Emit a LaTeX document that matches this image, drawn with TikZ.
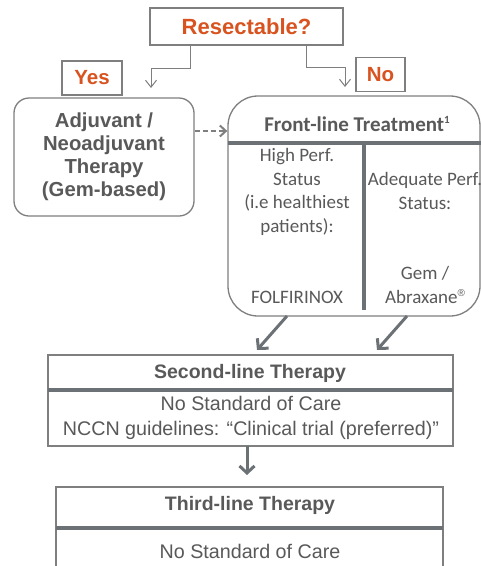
\documentclass[tikz,border=0pt]{standalone}
\usepackage{fontspec}
\setmainfont{Liberation Sans}
\newfontfamily\calfont{Carlito}
\newfontfamily\regfont{Liberation Sans}
\usetikzlibrary{arrows.meta}
\definecolor{txt}{HTML}{595959}
\definecolor{brd}{HTML}{7F7F7F}
\definecolor{divc}{HTML}{6B7175}
\definecolor{org}{HTML}{D8531F}
\begin{document}
\begin{tikzpicture}[x=1pt,y=-1pt,
  plainbox/.style={draw=brd, line width=1.3pt, fill=white, inner sep=0pt},
  orglbl/.style={font=\fontsize{20.5}{23}\selectfont\bfseries, text=org},
  boldtxt/.style={font=\fontsize{19.5}{23}\selectfont\bfseries, text=txt, align=center},
  bodytxt/.style={font=\fontsize{19.7}{25}\selectfont, text=txt, align=center},
  caltitle/.style={font=\calfont\fontsize{21}{23}\selectfont\bfseries, text=txt},
  caltxt/.style={font=\calfont\fontsize{19}{23.7}\selectfont, text=txt, align=center},
  divline/.style={draw=divc, line width=4pt},
  thinarrow/.style={draw=brd, line width=1pt, -{Straight Barb[length=7pt,width=11pt]}},
  dasharrow/.style={draw=brd, line width=2pt, dash pattern=on 5pt off 3pt, -{Straight Barb[length=6pt,width=11pt]}},
  bigarrow/.style={draw=divc, line width=3pt, -{Straight Barb[length=7pt,width=15pt]}}
]
\useasboundingbox (0,0) rectangle (481,566);

% top question
\node[plainbox, minimum width=193, minimum height=37, orglbl, font=\fontsize{22}{24}\selectfont\bfseries] (res) at (246.5,26.5) {Resectable?};
\node[plainbox, minimum width=60, minimum height=34, orglbl] (yes) at (92,78) {Yes};
\node[plainbox, minimum width=49, minimum height=34, orglbl] (no) at (380.5,74.5) {No};

% adjuvant
\node[plainbox, rounded corners=15pt, minimum width=180, minimum height=118, boldtxt, font=\fontsize{20.3}{23}\selectfont\bfseries] (adj) at (104,157)
  {Adjuvant /\\Neoadjuvant\\Therapy\\(Gem-based)};

% front-line
\node[plainbox, rounded corners=30pt, minimum width=252, minimum height=220] (front) at (354,206) {};
\coordinate (hl) at (228,143);
\coordinate (hr) at (481,143);
\coordinate (vt) at (364,143);
\coordinate (vb) at (364,310);
\draw[divline] (hl) -- (hr);
\draw[divline] (vt) -- (vb);
\node[caltitle] (ftitle) at (357,124) {Front-line Treatment\raisebox{0.75ex}{\fontsize{11}{11}\selectfont 1}};
\node[caltxt] (hp) at (297,192) {High Perf.\\Status\\(i.e healthiest\\patients):};
\node[caltxt] (folf) at (297,297) {FOLFIRINOX};
\node[caltxt] (ap) at (425,191) {Adequate Perf.\\Status:};
\node[caltxt] (gem) at (425,285) {Gem /\\Abraxane\raisebox{0.75ex}{\regfont\fontsize{10}{10}\selectfont ®}};

% second-line
\node[plainbox, minimum width=405, minimum height=91] (second) at (250.5,400.5) {};
\coordinate (s1) at (48,390);
\coordinate (s2) at (453,390);
\draw[divline, line width=3.5pt] (s1) -- (s2);
\node[boldtxt] (stitle) at (250,373) {Second-line Therapy};
\node[bodytxt] (sbody) at (251,418) {No Standard of Care\\NCCN guidelines: “Clinical trial (preferred)”};

% third-line
\node[plainbox, minimum width=387, minimum height=113] (third) at (249.5,543.5) {};
\coordinate (t1) at (56,528);
\coordinate (t2) at (443,528);
\draw[divline, line width=3.5pt] (t1) -- (t2);
\node[boldtxt] (ttitle) at (250,505) {Third-line Therapy};
\node[bodytxt] (tbody) at (250,551) {No Standard of Care};

% connectors
\coordinate (yturn) at (190,68);
\coordinate (yend) at (151,88);
\draw[thinarrow] (res.south -| yturn) -- (yturn) -| (yend);
\coordinate (nturn) at (306,67);
\coordinate (nend) at (345,87);
\draw[thinarrow] (res.south -| nturn) -- (nturn) -| (nend);

\draw[dasharrow] (adj.east |- 0,131) -- (front.west |- 0,131);

\coordinate (f1) at (287,316);
\coordinate (e1) at (257,350);
\coordinate (f2) at (407,316);
\coordinate (e2) at (377,350);
\draw[bigarrow] (f1) -- (e1);
\draw[bigarrow] (f2) -- (e2);

\coordinate (d1) at (247,446);
\coordinate (d2) at (247,475);
\draw[bigarrow] (d1) -- (d2);
\end{tikzpicture}
\end{document}
